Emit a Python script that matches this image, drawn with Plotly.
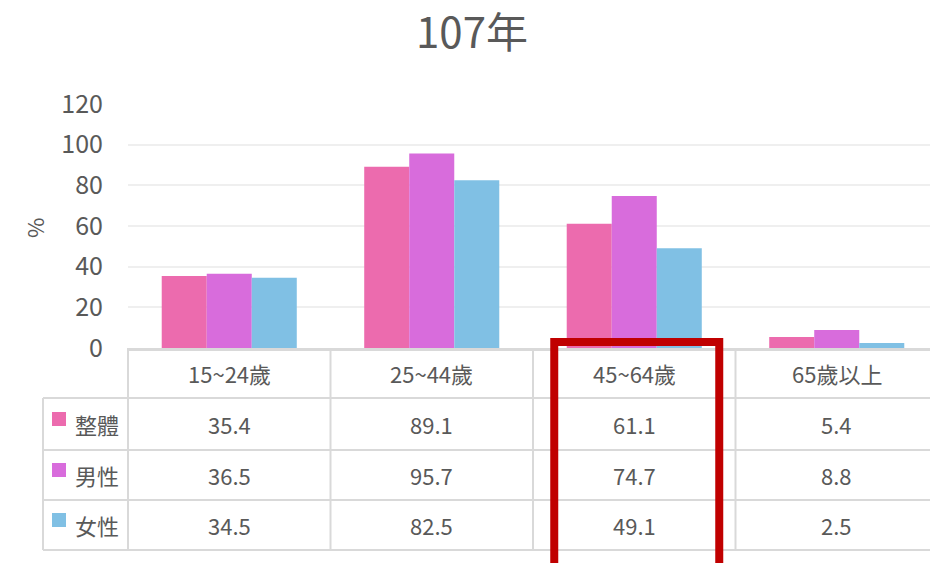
import plotly.graph_objects as go

title = "107年"
categories = ["15~24歲", "25~44歲", "45~64歲", "65歲以上"]
series_names = ["整體", "男性", "女性"]
overall = [35.4, 89.1, 61.1, 5.4]
male = [36.5, 95.7, 74.7, 8.8]
female = [34.5, 82.5, 49.1, 2.5]
y_ticks = [0, 20, 40, 60, 80, 100, 120]
highlight_category = "45~64歲"

series_values = [overall, male, female]
colors = ["#EC6BAE", "#D86CDC", "#80C0E4"]

FONT = "Noto Sans CJK TC, Noto Sans, sans-serif"
TXT = "#595959"
GRID = "#D9D9D9"

OFF = 8  # page offset of the figure inside the browser page
PAGE_W, PAGE_H = 938, 563
W, H = PAGE_W - OFF, PAGE_H - OFF
# plot area in page pixels
PL, PR, PT, PB = 128, 938, 104, 348
ML, MT = PL - OFF, PT - OFF
MR, MB = W - (PR - OFF), H - (PB - OFF)
PW, PH = PR - PL, PB - PT


def px(x):
    return (x - PL) / PW


def py(y):
    return (PB - y) / PH


fig = go.Figure()
for name, vals, col in zip(series_names, series_values, colors):
    fig.add_trace(go.Bar(x=categories, y=vals, name=name, marker=dict(color=col, line=dict(width=0)),
                         showlegend=False))

n = len(categories)
shapes = []
annotations = []

row_lines = [398, 450, 500, 550]
header_mid = 373
row_mids = [424, 475, 525]
left_x = 43


def txt(x, y, s, size=22, xanchor="center"):
    annotations.append(dict(x=x, y=y, xref="paper", yref="paper", text=s, xanchor=xanchor,
                            yanchor="middle", showarrow=False,
                            font=dict(size=size, color=TXT, family=FONT)))


for yy in row_lines:
    shapes.append(dict(type="line", xref="paper", yref="paper", x0=px(left_x), x1=1,
                       y0=py(yy), y1=py(yy), line=dict(color=GRID, width=2), layer="below"))
for i in range(n):
    shapes.append(dict(type="line", xref="paper", yref="paper", x0=i / n, x1=i / n,
                       y0=py(PB), y1=py(row_lines[-1]), line=dict(color=GRID, width=2), layer="below"))
shapes.append(dict(type="line", xref="paper", yref="paper", x0=px(left_x), x1=px(left_x),
                   y0=py(row_lines[0]), y1=py(row_lines[-1]), line=dict(color=GRID, width=2), layer="below"))

for i, c in enumerate(categories):
    txt((i + 0.5) / n, py(header_mid), c, size=22)

for r, (name, vals, col) in enumerate(zip(series_names, series_values, colors)):
    ym = row_mids[r]
    shapes.append(dict(type="rect", xref="paper", yref="paper", x0=px(52), x1=px(66),
                       y0=py(ym - 12), y1=py(ym + 2), fillcolor=col, line=dict(width=0)))
    txt(px(73), py(ym), name, size=22, xanchor="left")
    for i, v in enumerate(vals):
        txt((i + 0.5) / n, py(ym), f"{v:.1f}", size=22)

annotations.append(dict(x=px(34), y=py(228), xref="paper", yref="paper", text="%", textangle=-90,
                        xanchor="center", yanchor="middle", showarrow=False,
                        font=dict(size=22, color=TXT, family=FONT)))

hi = categories.index(highlight_category)
cx = (hi + 0.5) / n
shapes.append(dict(type="rect", xref="paper", yref="paper",
                   x0=cx - 80 / PW, x1=cx + 85 / PW,
                   y0=py(342), y1=py(572), line=dict(color="#C00000", width=8),
                   fillcolor="rgba(0,0,0,0)", layer="above"))

fig.update_layout(
    width=W, height=H,
    margin=dict(l=ML, r=MR, t=MT, b=MB, pad=0),
    paper_bgcolor="white", plot_bgcolor="white",
    barmode="group", bargap=0.333, bargroupgap=0,
    title=dict(text=title, x=(472 - OFF) / W, xref="container", xanchor="center",
               y=1 - (33 - OFF) / H, yref="container", yanchor="middle",
               font=dict(size=42, color=TXT, family=FONT)),
    font=dict(family=FONT, color=TXT),
    shapes=shapes, annotations=annotations,
)
fig.update_xaxes(showticklabels=False, showline=True, linecolor=GRID, linewidth=3, ticks="",
                 showgrid=False, zeroline=False)
fig.update_yaxes(range=[0, 120], tickvals=y_ticks, showgrid=True, gridcolor="#EFEFEF", gridwidth=2,
                 zeroline=False, showline=False, ticks="", ticklabelstandoff=24,
                 tickfont=dict(size=25, color=TXT, family=FONT))

fig.write_html("out.html")
